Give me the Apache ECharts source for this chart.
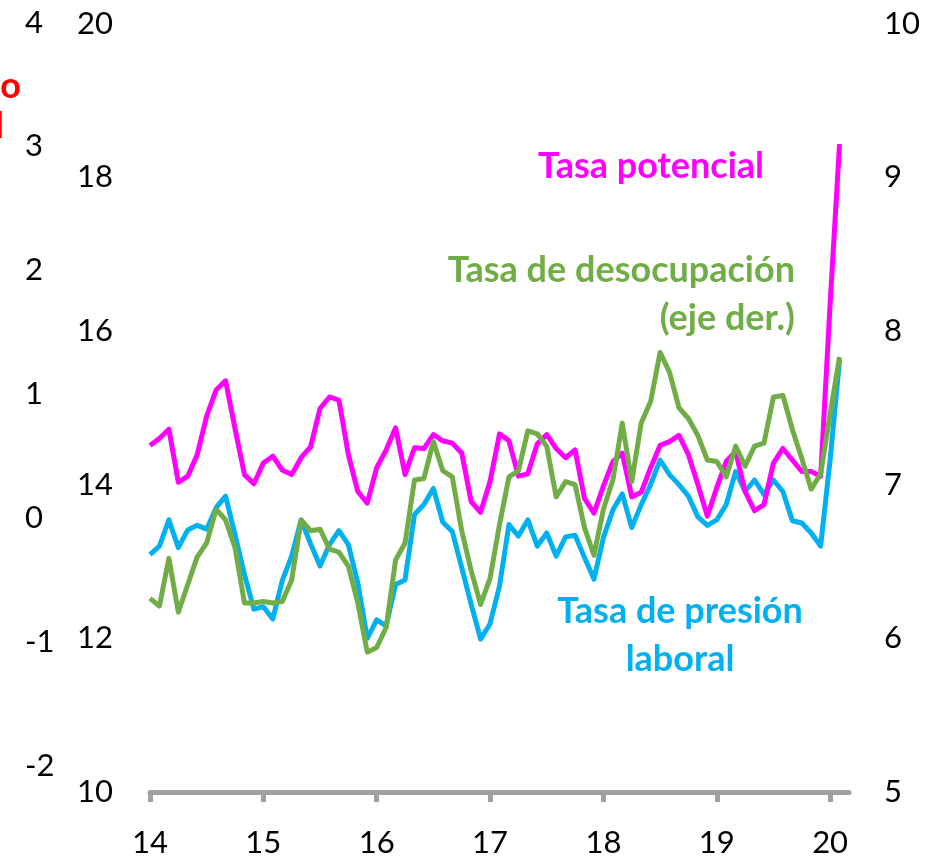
<!DOCTYPE html>
<html>
<head>
<meta charset="utf-8">
<script src="https://cdn.jsdelivr.net/npm/echarts@6/dist/echarts.min.js"></script>
<style>
    html, body { margin: 0; padding: 0; background: #fff; }
    #chart { width: 932px; height: 859px; }
</style>
</head>
<body>
<div id="chart"></div>
<script>
// meses ene-2014 .. mar-2020 (el ultimo sin dato, solo alarga el eje)
var meses = [];
for (var a = 2014; a <= 2020; a++) {
    for (var m = 1; m <= 12; m++) {
        if (a == 2020 && m > 3) break;
        meses.push(a + '-' + (m < 10 ? '0' + m : m));
    }
}
var etiquetasAnio = ['14', '15', '16', '17', '18', '19', '20'];

// eje izq. (10-20)
var tasaPotencial = [
    14.51, 14.60, 14.72, 14.03, 14.11, 14.39, 14.89, 15.23, 15.35, 14.73, 14.13, 14.01,
    14.28, 14.37, 14.19, 14.13, 14.35, 14.49, 14.99, 15.14, 15.10, 14.39, 13.91, 13.76,
    14.22, 14.45, 14.74, 14.13, 14.48, 14.47, 14.65, 14.57, 14.54, 14.41, 13.78, 13.64,
    14.04, 14.66, 14.57, 14.11, 14.14, 14.53, 14.65, 14.47, 14.35, 14.45, 13.82, 13.63,
    13.98, 14.30, 14.41, 13.84, 13.90, 14.22, 14.51, 14.56, 14.64, 14.39, 14.00, 13.59,
    13.96, 14.30, 14.43, 13.91, 13.66, 13.74, 14.28, 14.47, 14.32, 14.17, 14.17, 14.11,
    16.35, 18.43
];
var tasaPresion = [
    13.09, 13.20, 13.54, 13.18, 13.41, 13.47, 13.42, 13.70, 13.85, 13.35, 12.83, 12.38,
    12.41, 12.25, 12.75, 13.07, 13.54, 13.23, 12.94, 13.22, 13.40, 13.22, 12.72, 12.00,
    12.24, 12.16, 12.70, 12.76, 13.61, 13.74, 13.95, 13.51, 13.39, 12.92, 12.44, 11.99,
    12.19, 12.68, 13.48, 13.33, 13.54, 13.20, 13.37, 13.07, 13.32, 13.34, 13.05, 12.77,
    13.31, 13.67, 13.88, 13.44, 13.74, 14.00, 14.32, 14.13, 14.00, 13.85, 13.58, 13.47,
    13.54, 13.74, 14.17, 13.91, 14.06, 13.87, 14.06, 13.91, 13.53, 13.50, 13.37, 13.20,
    14.32, 15.62
];
// eje der. (5-10)
var tasaDesocupacion = [
    6.26, 6.21, 6.52, 6.17, 6.35, 6.53, 6.62, 6.84, 6.77, 6.59, 6.23, 6.23,
    6.24, 6.23, 6.24, 6.38, 6.77, 6.70, 6.71, 6.58, 6.56, 6.47, 6.23, 5.91,
    5.94, 6.07, 6.51, 6.62, 7.03, 7.04, 7.28, 7.09, 7.05, 6.70, 6.44, 6.22,
    6.39, 6.74, 7.05, 7.09, 7.35, 7.33, 7.25, 6.92, 7.02, 7.00, 6.72, 6.54,
    6.84, 7.03, 7.40, 7.02, 7.40, 7.54, 7.86, 7.73, 7.50, 7.43, 7.32, 7.16,
    7.15, 7.05, 7.25, 7.12, 7.25, 7.27, 7.57, 7.58, 7.36, 7.17, 6.97, 7.07,
    7.46, 7.83
];

var fuente = 'Lato, "Open Sans", sans-serif';
var chart = echarts.init(document.getElementById('chart'));

chart.setOption({
    animation: false,
    grid: [
        {left: 150, right: 83, top: 23.5, bottom: 67},
        {left: 60, right: 83, top: 22.5, bottom: 93}
    ],
    xAxis: [
        {
            type: 'category',
            gridIndex: 0,
            data: meses,
            boundaryGap: false,
            axisLine: {lineStyle: {color: '#A0A0A0', width: 5}},
            axisTick: {
                show: true,
                length: 10,
                interval: function (i) { return i % 12 == 0; },
                lineStyle: {color: '#A0A0A0', width: 5}
            },
            axisLabel: {
                interval: function (i) { return i % 12 == 0; },
                formatter: function (v, i) { return etiquetasAnio[i / 12]; },
                margin: 35,
                fontSize: 31,
                fontFamily: fuente,
                color: '#000'
            },
            splitLine: {show: false}
        },
        {
            type: 'category',
            gridIndex: 1,
            data: meses,
            show: false
        }
    ],
    yAxis: [
        {
            type: 'value',
            gridIndex: 0,
            position: 'left',
            min: 10, max: 20, interval: 2,
            axisLine: {show: false},
            axisTick: {show: false},
            splitLine: {show: false},
            axisLabel: {margin: 37, fontSize: 31, fontFamily: fuente, color: '#000'}
        },
        {
            type: 'value',
            gridIndex: 0,
            position: 'right',
            min: 5, max: 10, interval: 1,
            axisLine: {show: false},
            axisTick: {show: false},
            splitLine: {show: false},
            axisLabel: {margin: 35, fontSize: 31, fontFamily: fuente, color: '#000'}
        },
        {
            type: 'value',
            gridIndex: 1,
            position: 'left',
            min: -2, max: 4, interval: 1,
            axisLine: {show: false},
            axisTick: {show: false},
            splitLine: {show: false},
            axisLabel: {margin: 35, align: 'left', fontSize: 31, fontFamily: fuente, color: '#000'}
        }
    ],
    series: [
        {
            name: 'Tasa de presión laboral',
            type: 'line',
            data: tasaPresion,
            xAxisIndex: 0, yAxisIndex: 0,
            showSymbol: false,
            lineStyle: {color: '#00B0F0', width: 5, join: 'round'},
            itemStyle: {color: '#00B0F0'}
        },
        {
            name: 'Tasa potencial',
            type: 'line',
            data: tasaPotencial,
            xAxisIndex: 0, yAxisIndex: 0,
            showSymbol: false,
            lineStyle: {color: '#FF00FF', width: 5, join: 'round'},
            itemStyle: {color: '#FF00FF'}
        },
        {
            name: 'Tasa de desocupación',
            type: 'line',
            data: tasaDesocupacion,
            xAxisIndex: 0, yAxisIndex: 1,
            showSymbol: false,
            lineStyle: {color: '#70AD47', width: 5, join: 'round'},
            itemStyle: {color: '#70AD47'}
        }
    ],
    graphic: [
        {type: 'text', x: 651, y: 166, style: {text: 'Tasa potencial', font: 'bold 36px ' + fuente, fill: '#FF00FF', textAlign: 'center', textVerticalAlign: 'middle'}},
        {type: 'text', x: 795, y: 270, style: {text: 'Tasa de desocupación', font: 'bold 36px ' + fuente, fill: '#70AD47', textAlign: 'right', textVerticalAlign: 'middle'}},
        {type: 'text', x: 795, y: 318, style: {text: '(eje der.)', font: 'bold 36px ' + fuente, fill: '#70AD47', textAlign: 'right', textVerticalAlign: 'middle'}},
        {type: 'text', x: 680, y: 611, style: {text: 'Tasa de presión', font: 'bold 36px ' + fuente, fill: '#00B0F0', textAlign: 'center', textVerticalAlign: 'middle'}},
        {type: 'text', x: 680, y: 659, style: {text: 'laboral', font: 'bold 36px ' + fuente, fill: '#00B0F0', textAlign: 'center', textVerticalAlign: 'middle'}},
        // titulo del eje exterior, cortado por el borde izquierdo como en el original
        {type: 'text', x: 21, y: 86, style: {text: 'Brecha de desempleo', font: 'bold 36px ' + fuente, fill: '#FF0000', textAlign: 'right', textVerticalAlign: 'middle'}},
        {type: 'text', x: 4, y: 126, style: {text: 'natural', font: 'bold 36px ' + fuente, fill: '#FF0000', textAlign: 'right', textVerticalAlign: 'middle'}}
    ]
});
</script>
</body>
</html>
